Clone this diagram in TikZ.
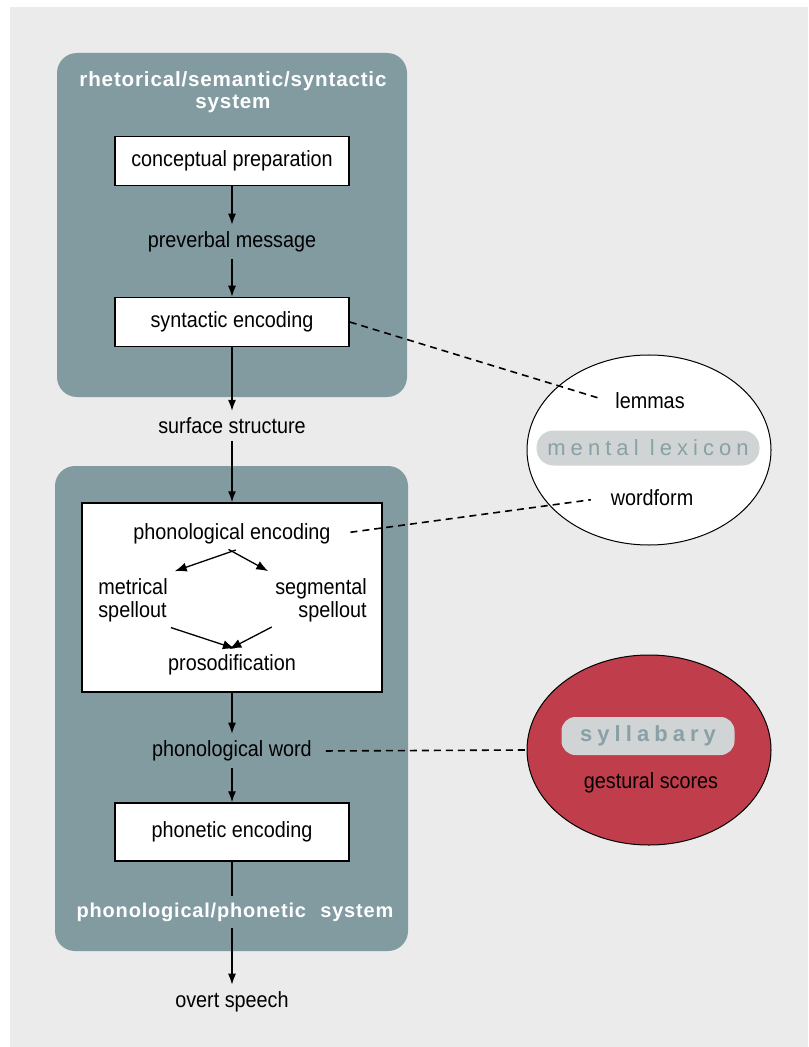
\documentclass[tikz,border=0pt]{standalone}
\usepackage{fontspec}
\setmainfont{Liberation Sans}[FakeStretch=0.9]
\newfontfamily\headfont{Liberation Sans}[LetterSpace=4]
\newfontfamily\wideface{Liberation Sans}[LetterSpace=23]
\usepackage{tikz}
\usetikzlibrary{shapes.geometric, positioning, arrows.meta}
\definecolor{LxBack}{RGB}{235,235,235}
\definecolor{LxSlate}{RGB}{130,155,160}
\definecolor{LxRed}{RGB}{192,62,76}
\definecolor{LxPill}{RGB}{209,212,212}
\definecolor{LxPillText}{RGB}{137,161,166}

\begin{document}
\begin{tikzpicture}[x=0.5pt, y=-0.5pt,
          font=\fontsize{11}{11.5}\selectfont,
          stage/.style={rectangle, draw=black, fill=white, line width=0.75pt,
                        minimum width=117pt, minimum height=24.5pt},
          head/.style={font=\headfont\bfseries\fontsize{10.3}{11}\selectfont,
                       text=white, align=center},
          store/.style={ellipse, draw=black, line width=0.5pt,
                        minimum width=122pt, minimum height=95pt},
          pill/.style={rectangle, fill=LxPill, text=LxPillText,
                       font=\wideface\fontsize{11}{12}\selectfont},
          arr/.style={-{Latex[length=5.5pt, width=4pt]}, line width=0.65pt},
          fork/.style={-{Latex[length=6pt, width=4.6pt]}, line width=0.65pt},
          link/.style={dashed, dash pattern=on 3.5pt off 2.5pt, line width=0.8pt}
        ]
        \useasboundingbox (0,0) rectangle (808,1047);
        \fill[LxBack] (10,7) rectangle (808,1047);
        % Conceptualizer panel
        \fill[LxSlate, rounded corners=10pt] (57,53) rectangle (407,397);
        \node[head] (semtitle) at (233,92)
              {rhetorical/semantic/syntactic\\system};
        \node[stage] (concept) at (232,161) {conceptual preparation};
        \node (preverb) at (232,242) {preverbal message};
        \node[stage] (syntax) at (232,322) {syntactic encoding};
        \draw[arr] (concept)--(preverb);
        \draw[arr] (preverb)--(syntax);
        \node (surface) at (232,426) {surface structure};
        \draw[arr] (syntax)--(surface);

        % Formulator panel
        \fill[LxSlate, rounded corners=10pt] (55,466) rectangle (408,951);
        \node[rectangle, draw=black, fill=white, line width=0.75pt,
              minimum width=150pt, minimum height=94.5pt]
              (phonbox) at (232,597.5) {};
        \draw[arr] (surface)--(phonbox.north);
        \node (phonenc) at (232,534) {phonological encoding};
        \node[align=left] (metrical) at (133,600) {metrical\\spellout};
        \node[align=right] (segment) at (321,600) {segmental\\spellout};
        \node (prosody) at (232,665) {prosodification};
        \draw[fork, shorten <=-2pt] (phonenc.south)--(metrical.north east);
        \draw[fork, shorten <=-2pt] (phonenc.south)--(segment.north west);
        \draw[fork, shorten <=-2pt, shorten >=-1.5pt]
              (metrical.south east)--(prosody.north);
        \draw[fork, shorten <=-2pt, shorten >=-1.5pt]
              (segment.south west)--(prosody.north);
        \node (phonword) at (232,751) {phonological word};
        \draw[arr] (phonbox.south)--(phonword);
        \node[stage, minimum height=29pt] (phonetic) at (232,832)
              {phonetic encoding};
        \draw[arr] (phonword)--(phonetic);
        \node[head, font=\headfont\bfseries\fontsize{10}{11}\selectfont]
              (pptitle) at (235,912)
              {phonological/phonetic\hspace{0.4em} system};
        \draw[line width=0.65pt] (phonetic.south)--(phonetic.south |- pptitle.north);
        \node (overt) at (232,1002) {overt speech};
        \draw[arr] (overt.north |- pptitle.south)--(overt);

        % Mental lexicon
        \node[store, fill=white] (lexicon) at (649,450) {};
        \node (lemmas) at (650,401) {lemmas};
        \node[pill, rounded corners=8.5pt, minimum width=111.5pt,
              minimum height=17.5pt] (lexlabel) at (648,448)
              {mental lexicon};
        \node (wordform) at (652,498) {wordform};

        % Syllabary
        \node[store, fill=LxRed] (sylla) at (649,750) {};
        \node[pill, rounded corners=7pt, minimum width=86.5pt,
              minimum height=19pt, font=\wideface\bfseries\fontsize{11}{12}\selectfont]
              (syllabel) at (648,736) {syllabary};
        \node (gestural) at (651,783) {gestural scores};

        % Lexical access links
        \draw[link, shorten >=5.5pt] (syntax.east)--(lemmas.west);
        \draw[link, shorten <=6.5pt, shorten >=6.5pt]
              (phonenc.east)--(wordform.west);
        \draw[link, shorten <=3.5pt] (phonword.east)--(sylla.west);
      \end{tikzpicture}
\end{document}
